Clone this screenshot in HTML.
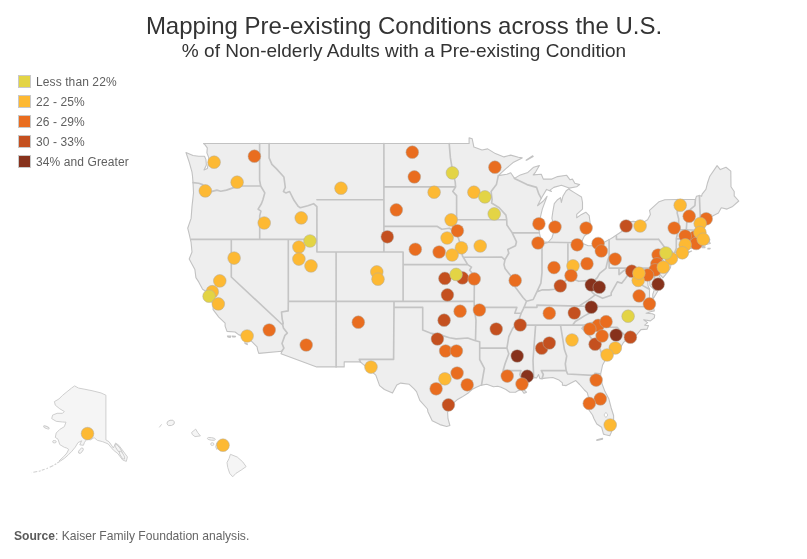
<!DOCTYPE html>
<html lang="en"><head><meta charset="utf-8"><title>Mapping Pre-existing Conditions across the U.S.</title>
<style>
html,body{margin:0;padding:0;background:#fff}
body{width:807px;height:559px;position:relative;overflow:hidden;font-family:"Liberation Sans",Arial,sans-serif}
.title{position:absolute;left:0.5px;top:12px;width:807px;text-align:center;font-size:24px;line-height:28px;color:#333}
.sub{position:absolute;left:0.5px;top:40px;width:807px;text-align:center;font-size:19.05px;line-height:22px;color:#333}
.li{position:absolute;left:18px;height:14px;white-space:nowrap}
.sw{position:absolute;left:0;top:0;width:11px;height:11px;border:1px solid #c9c9c9}
.lt{position:absolute;left:18px;top:0px;font-size:12px;line-height:14px;color:#606060;letter-spacing:0.1px}
.src{position:absolute;left:14px;top:528px;font-size:12.1px;line-height:16px;color:#666}
.src b{color:#5a5a5a}
svg{position:absolute;left:0;top:0}
</style></head><body>
<div class="title">Mapping Pre-existing Conditions across the U.S.</div>
<div class="sub">% of Non-elderly Adults with a Pre-existing Condition</div>
<div class="li" style="top:75px"><span class="sw" style="background:#e3d445"></span><span class="lt">Less than 22%</span></div><div class="li" style="top:95px"><span class="sw" style="background:#fdb933"></span><span class="lt">22 - 25%</span></div><div class="li" style="top:115px"><span class="sw" style="background:#e96d1f"></span><span class="lt">26 - 29%</span></div><div class="li" style="top:135px"><span class="sw" style="background:#c4501f"></span><span class="lt">30 - 33%</span></div><div class="li" style="top:155px"><span class="sw" style="background:#87321c"></span><span class="lt">34% and Greater</span></div>
<svg width="807" height="559" viewBox="0 0 807 559">
<g fill="#eeeeee" stroke="#c2c2c2" stroke-width="1.1" stroke-linejoin="round">
<path d="M186.0 152.5 L193.0 155.5 L198.7 156.2 L204.5 156.2 L205.9 159.4 L206.4 165.1 L204.0 170.0 L207.3 168.6 L208.3 163.6 L208.8 157.9 L206.9 152.9 L207.3 147.9 L204.5 144.2 L203.5 143.5 L469.1 143.5 L469.1 137.9 L472.2 138.8 L473.9 147.1 L482.0 150.0 L487.7 148.9 L495.4 153.6 L504.0 156.9 L510.7 155.1 L518.4 157.2 L522.2 157.9 L513.6 162.2 L505.9 168.6 L498.3 175.6 L506.9 174.2 L510.7 172.8 L514.5 178.4 L520.3 174.9 L527.9 172.4 L533.7 167.2 L539.4 165.5 L535.6 172.1 L533.2 174.9 L541.3 174.2 L543.3 179.1 L551.9 179.1 L557.6 176.6 L566.7 175.3 L570.1 179.8 L572.4 179.1 L574.8 183.3 L579.6 184.6 L576.7 186.7 L569.1 188.1 L561.4 185.3 L553.8 187.4 L550.0 190.1 L551.4 191.5 L546.6 189.4 L541.3 198.3 L537.5 205.7 L543.3 201.0 L547.1 196.3 L542.3 209.1 L540.4 217.1 L538.5 225.6 L539.4 232.8 L541.3 241.2 L543.3 244.0 L548.0 242.5 L551.9 238.0 L554.7 228.9 L551.9 218.4 L552.8 211.8 L554.3 203.7 L557.6 199.7 L560.5 197.6 L561.4 202.4 L562.9 196.3 L566.2 190.8 L568.6 189.0 L574.8 192.9 L581.5 197.0 L582.5 202.4 L582.5 209.1 L576.7 214.4 L576.7 217.7 L581.5 214.4 L585.8 212.2 L589.2 215.7 L590.6 226.3 L590.1 231.5 L584.4 236.0 L581.1 242.7 L588.2 245.7 L597.8 245.7 L609.3 239.6 L613.1 237.3 L623.6 230.2 L624.6 227.6 L623.2 223.0 L633.2 221.4 L642.8 222.6 L647.6 219.7 L650.4 214.4 L649.5 210.4 L659.1 201.7 L664.8 199.7 L677.7 199.5 L695.4 199.5 L696.4 196.3 L699.4 195.6 L701.6 196.3 L702.1 194.2 L705.9 189.4 L707.4 183.3 L709.8 176.3 L717.1 165.6 L720.3 169.6 L726.0 167.2 L730.8 171.1 L731.0 186.7 L734.2 191.5 L734.2 195.9 L738.8 201.0 L732.7 206.4 L727.0 209.1 L721.3 207.7 L718.4 213.1 L711.7 216.4 L707.9 218.4 L704.5 223.7 L702.6 226.3 L702.1 228.2 L704.0 230.8 L700.2 234.7 L703.6 239.3 L705.0 242.1 L709.3 242.1 L709.8 239.3 L707.9 238.4 L710.3 243.5 L703.6 245.0 L700.2 245.7 L696.4 246.3 L692.1 248.2 L682.0 248.9 L674.8 252.3 L679.1 253.1 L685.8 252.7 L691.6 251.1 L681.1 256.5 L671.5 257.3 L671.5 259.0 L670.5 267.7 L667.7 272.1 L662.9 277.9 L659.1 273.3 L656.7 269.6 L658.1 273.3 L661.0 279.5 L661.4 283.8 L661.0 285.6 L658.1 290.5 L652.8 299.5 L652.8 294.1 L654.3 289.9 L650.0 285.6 L649.5 278.3 L650.9 272.1 L651.9 270.2 L648.5 273.9 L647.6 278.3 L648.0 285.6 L649.5 289.3 L649.5 294.1 L649.5 301.3 L652.4 302.3 L653.3 306.7 L654.3 310.9 L651.4 311.4 L646.1 313.2 L652.4 313.8 L654.7 315.0 L654.3 317.9 L650.4 320.9 L643.7 319.7 L647.6 322.6 L644.7 325.2 L648.5 325.6 L647.1 329.1 L640.9 329.6 L634.2 337.7 L627.9 338.3 L623.6 342.3 L620.8 346.9 L615.0 351.5 L609.8 356.0 L605.9 358.9 L602.6 365.0 L600.7 373.8 L600.7 377.9 L602.1 384.0 L605.0 391.6 L608.8 398.7 L611.2 408.0 L613.6 415.5 L613.6 421.9 L612.6 427.8 L611.2 432.5 L609.8 435.7 L605.5 434.7 L603.5 434.1 L601.6 427.2 L596.8 424.0 L594.0 418.7 L592.5 415.0 L588.2 409.0 L587.3 404.7 L588.7 398.2 L587.3 392.7 L584.4 390.0 L579.6 384.5 L575.8 380.6 L572.4 382.3 L566.2 385.6 L562.4 385.1 L562.4 382.9 L559.0 380.1 L552.8 377.5 L545.2 378.1 L542.1 378.6 L539.9 378.6 L538.5 374.5 L536.6 377.9 L533.7 377.6 L528.9 377.3 L524.1 378.4 L522.2 379.8 L520.8 381.2 L524.1 382.3 L525.1 386.2 L523.6 389.5 L526.5 392.2 L524.1 393.3 L521.2 389.5 L517.4 391.1 L515.5 392.2 L509.8 392.2 L505.9 389.5 L501.1 387.3 L497.8 386.2 L493.5 386.7 L486.8 384.3 L481.5 385.1 L476.3 387.3 L472.9 388.9 L468.6 392.7 L461.9 397.1 L457.1 399.8 L451.4 404.7 L449.5 408.0 L447.6 412.3 L448.0 418.7 L449.9 425.5 L446.6 426.5 L439.9 424.6 L432.2 420.8 L427.9 411.7 L427.5 409.0 L419.8 400.4 L416.5 391.6 L414.1 388.9 L409.3 384.3 L400.7 383.1 L396.8 385.1 L392.5 393.1 L384.4 389.5 L379.6 385.6 L375.8 375.1 L365.3 366.2 L360.5 362.2 L360.2 361.9 L344.2 361.9 L344.2 366.9 L316.7 366.9 L281.0 353.8 L281.8 351.3 L258.8 353.4 L257.6 349.8 L257.1 346.9 L251.4 341.2 L246.6 339.5 L245.6 336.6 L238.9 334.9 L235.1 332.0 L227.0 331.4 L225.1 326.1 L225.1 323.2 L218.8 317.1 L213.1 309.7 L213.1 306.1 L214.0 303.1 L211.7 301.9 L208.3 298.9 L207.3 292.3 L202.6 289.3 L198.7 281.9 L195.9 277.6 L194.9 269.6 L189.2 259.0 L192.0 252.0 L191.1 242.5 L189.2 234.1 L187.7 228.2 L191.1 218.4 L192.0 206.4 L193.5 192.9 L193.0 182.6 L192.5 176.3 L192.0 172.1 L189.2 162.2 Z"/><path d="M596.8 440.5 L602.6 439.1 L602.6 438.4 L596.8 439.8 Z"/><path d="M526.0 160.1 L532.7 155.8 L533.2 156.5 L527.0 160.1 Z"/><path d="M227.4 336.0 L230.8 336.0 L230.3 337.4 L227.9 336.9 Z"/><path d="M232.2 336.0 L235.6 336.2 L235.1 336.9 L232.7 336.9 Z"/><path d="M244.7 342.7 L247.5 344.1 L247.1 344.6 L245.1 343.5 Z"/><path d="M702.1 246.3 L705.0 246.9 L705.0 247.6 L702.1 247.8 Z"/><path d="M707.9 248.2 L710.3 248.2 L709.8 248.9 L707.9 248.9 Z"/>
</g>
<g fill="none" stroke="#c4c4c4" stroke-width="1.65" stroke-linejoin="round" stroke-linecap="round">
<path d="M193.0 182.6 L198.7 183.3 L202.6 184.6 L204.5 190.8 L210.2 191.9 L216.9 190.1 L220.7 191.2 L226.5 190.1 L235.1 187.1 L240.8 186.0 L260.7 186.0 M259.6 143.5 L259.6 180.2 L260.7 186.0 M260.7 186.0 L264.8 192.9 L262.9 199.7 L261.4 203.7 L258.1 209.1 L260.9 211.1 L259.7 215.7 L259.7 239.3 M191.1 239.3 L316.9 239.3 M231.3 239.3 L231.3 277.0 L282.7 325.0 M282.7 325.0 L283.2 323.2 L282.2 319.1 L281.5 312.0 L288.2 310.9 L288.3 301.3 M288.3 301.3 L288.3 239.3 M282.7 325.0 L283.4 327.9 L287.3 333.1 L284.9 335.4 L282.0 343.5 L283.9 348.1 L281.8 351.3 M288.3 301.3 L474.2 301.3 M316.9 239.3 L316.9 252.0 L336.1 252.0 M336.1 252.0 L336.1 366.9 M316.9 239.3 L316.9 206.7 L313.6 203.7 L307.8 205.7 L300.2 207.7 L298.3 206.4 L294.0 200.3 L289.6 191.5 L285.8 192.9 L283.4 191.5 L285.3 187.4 L283.9 177.0 L276.3 168.6 L271.9 164.4 L269.1 157.9 L269.1 143.5 M316.9 199.7 L383.9 199.7 M383.9 143.5 L383.9 252.0 M336.1 252.0 L403.1 252.0 M403.1 252.0 L403.1 301.3 M403.1 264.6 L467.7 264.6 M383.9 186.8 L455.6 186.8 M383.9 226.3 L437.0 226.3 L441.8 229.3 L449.5 228.2 L454.3 231.5 L456.6 232.8 M449.2 143.5 L450.4 157.9 L452.8 172.1 L455.2 181.9 L455.6 186.8 L452.8 191.5 L456.6 195.6 L456.6 219.7 L455.2 225.0 L456.6 232.8 M456.6 219.7 L506.7 219.7 M456.6 232.8 L460.0 243.1 L461.9 249.5 L462.4 255.8 L467.7 264.6 L471.5 267.1 L469.6 270.2 L474.4 275.8 L474.2 301.3 L474.2 307.3 L476.0 320.3 L475.5 340.7 M463.2 257.3 L501.8 257.0 L504.8 259.9 M474.2 307.3 L516.9 307.3 L514.8 313.2 L521.2 313.2 M498.3 175.6 L496.4 184.6 L491.1 191.5 L492.1 199.7 L491.6 203.0 L499.2 207.7 L505.9 215.1 L506.7 219.7 L506.9 225.0 L512.2 232.8 L516.5 241.8 L515.5 245.7 L507.8 249.5 L508.8 253.3 L505.0 259.6 L504.0 264.6 L505.0 268.4 L511.7 277.0 L516.9 279.5 L516.5 281.9 L515.0 286.8 L523.2 297.7 L526.5 301.3 L524.1 307.3 L521.2 313.2 L517.4 323.8 L515.5 325.0 L512.6 328.5 L508.8 336.6 L506.9 348.1 L508.8 353.8 L505.0 363.9 L503.1 370.6 L521.0 370.6 L519.8 374.5 L522.2 379.8 M479.7 348.1 L506.9 348.1 M475.5 340.7 L479.7 341.8 L479.7 359.5 L484.4 368.4 L483.0 376.2 L481.5 385.1 M475.5 340.7 L467.7 338.0 L456.2 338.9 L449.5 337.7 L441.8 335.4 L430.3 333.1 L422.7 330.1 L422.7 307.3 L394.0 307.3 M394.0 301.3 L394.0 307.3 L393.6 359.4 L359.3 359.4 L360.5 362.2 M514.5 178.4 L527.0 184.6 L536.6 187.4 L538.9 194.2 L541.3 198.3 M512.2 232.8 L539.4 232.8 M542.0 243.1 L542.0 272.7 L540.9 283.2 L537.0 291.7 M567.9 243.1 L567.9 275.8 M545.2 242.3 L581.1 242.7 M609.1 256.6 L607.9 259.6 L605.9 268.4 L599.7 273.3 L597.3 277.6 L593.0 281.9 L589.2 284.1 L585.4 280.7 L578.7 281.3 L572.9 278.9 L571.0 275.8 L567.9 275.8 L566.2 280.1 L559.5 285.6 L554.7 289.3 L549.0 289.9 L541.8 289.9 L537.0 291.7 L533.2 299.5 L526.5 301.3 M523.6 307.3 L537.0 307.3 L537.0 305.1 L578.9 306.1 L598.0 306.2 L653.3 306.7 M578.9 306.1 L588.2 300.1 L595.2 294.8 L592.1 292.3 L589.2 284.1 M595.2 294.8 L602.6 298.3 L611.2 295.3 L611.2 292.9 L617.4 281.9 L621.7 283.2 L625.1 278.9 L629.9 272.1 L634.8 275.4 L635.9 273.1 M619.0 268.1 L619.0 274.6 L623.2 271.1 L626.0 269.6 L631.3 268.6 L635.9 273.1 L638.0 275.8 L642.3 278.9 L639.9 284.4 L642.8 285.6 L649.5 289.3 M609.1 268.1 L654.4 268.1 M609.1 268.1 L609.1 239.5 M616.4 235.8 L616.4 239.3 L658.6 239.3 M658.6 239.3 L664.8 247.5 L660.7 252.4 L660.0 257.1 L664.3 262.1 L661.0 265.9 L657.6 267.1 M657.6 267.1 L654.4 268.1 L654.4 283.8 L661.4 283.8 M655.7 289.9 L659.5 288.9 M664.8 247.5 L672.4 252.0 M674.8 252.3 L676.3 248.2 L676.3 238.6 L678.5 229.5 L678.7 219.0 L677.2 213.1 L677.7 199.5 M676.3 238.6 L692.5 239.0 L696.6 239.0 L698.3 243.8 L699.1 245.7 M692.5 239.0 L692.5 248.2 M678.5 229.5 L697.3 230.2 L702.1 227.8 M686.3 229.8 L686.8 222.3 L689.7 214.4 L690.6 209.1 L694.9 205.7 L695.4 199.5 M702.6 225.6 L700.4 221.0 L699.4 195.6 M542.1 378.6 L543.3 374.5 L541.3 370.6 L566.2 370.6 L567.6 374.0 L593.0 375.4 L594.5 377.6 L594.9 373.4 L600.2 373.8 M560.5 325.2 L564.5 349.8 L566.7 356.0 L565.3 363.9 L566.2 370.6 M535.6 325.1 L533.0 360.5 L533.7 377.6 M515.5 325.0 L572.7 325.1 L584.4 325.0 M572.7 325.1 L575.3 321.5 L580.6 318.3 L584.4 315.9 L589.2 313.2 L594.5 312.0 L598.0 306.2 M584.4 325.0 L582.0 328.5 L587.8 333.7 L593.0 340.6 L595.9 342.9 L599.7 348.1 L603.1 357.2 L605.9 358.9 M584.4 325.0 L592.1 322.6 L604.0 323.2 L604.0 324.4 L605.2 323.8 L606.6 327.1 L617.1 327.3 L627.9 338.3"/>
</g>
<path d="M605.9 412.3 L607.9 415.0 L605.9 417.6 L604.0 415.0 Z" fill="#fff" stroke="#c6c6c6" stroke-width="0.8"/>
<g fill="#f5f5f5" stroke="#c9c9c9" stroke-width="0.9" stroke-linejoin="round"><path d="M74.6 385.9 L78.6 388.1 L83.0 388.9 L92.0 390.7 L100.9 392.9 L105.9 395.2 L105.9 439.9 L109.0 441.7 L113.4 448.0 L115.6 443.0 L118.8 445.3 L122.4 450.1 L127.4 456.9 L126.3 461.4 L122.7 460.0 L117.9 453.7 L113.4 450.1 L108.1 443.9 L102.7 441.7 L97.3 440.3 L94.1 437.6 L90.5 439.9 L87.0 439.0 L84.5 442.3 L83.4 445.3 L79.8 444.8 L81.6 440.8 L78.0 442.6 L75.3 447.1 L71.9 451.2 L68.4 454.8 L64.8 458.0 L60.7 460.9 L59.1 460.9 L63.7 456.6 L66.9 453.0 L68.7 449.4 L66.6 448.0 L64.3 447.3 L59.8 444.6 L58.0 439.2 L55.3 437.4 L56.2 433.0 L59.8 429.4 L64.3 426.7 L66.0 422.2 L62.5 422.0 L56.2 421.3 L51.7 418.6 L52.6 415.1 L57.1 413.3 L62.5 413.3 L64.3 411.5 L59.8 408.8 L55.3 405.2 L54.4 401.6 L58.9 399.0 L62.5 395.4 L66.9 391.8 L71.4 388.2 Z"/><ellipse cx="46.4" cy="427.4" rx="3.0" ry="1.0" transform="rotate(25 46.4 427.4)"/><ellipse cx="54.4" cy="441.7" rx="1.8" ry="1.2" transform="rotate(0 54.4 441.7)"/><ellipse cx="80.9" cy="450.7" rx="3.2" ry="1.6" transform="rotate(-50 80.9 450.7)"/><ellipse cx="118.5" cy="448.9" rx="5.5" ry="1.6" transform="rotate(55 118.5 448.9)"/><ellipse cx="122.0" cy="455.1" rx="4.5" ry="1.5" transform="rotate(60 122.0 455.1)"/><path d="M59.8 461.4 L53.5 465.5 L46.4 468.7 L39.2 471.2 L31.2 472.7" fill="none" stroke="#d0d0d0" stroke-width="1.1" stroke-dasharray="3 1.2 2 1.5 4 2 1.5 2"/><path d="M159.3 427.4 L161.6 424.3" fill="none"/><ellipse cx="170.7" cy="422.9" rx="3.8" ry="2.7" transform="rotate(-15 170.7 422.9)"/><path d="M191.6 432.5 L195.7 429.1 L197.7 432.5 L200.4 435.9 L195.0 436.6 L192.3 434.5 Z"/><ellipse cx="211.3" cy="438.9" rx="4.1" ry="1.3" transform="rotate(8 211.3 438.9)"/><ellipse cx="212.3" cy="444.1" rx="1.6" ry="1.4" transform="rotate(0 212.3 444.1)"/><path d="M216.8 442.7 L219.5 440.7 L223.6 441.6 L227.7 444.1 L226.3 447.5 L222.2 448.8 L218.8 447.5 L216.8 449.5 L215.7 446.8 Z"/><path d="M230.4 454.3 L237.2 457.0 L242.7 461.8 L246.1 466.6 L241.3 470.0 L235.9 473.4 L232.7 476.8 L229.7 473.4 L227.7 467.3 L227.0 462.5 L229.1 458.4 Z"/></g>
<g stroke="#b0aca4" stroke-opacity="0.85" stroke-width="0.6">
<circle cx="214.1" cy="162.2" r="6.35" fill="#fdb933"/>
<circle cx="254.4" cy="156.2" r="6.35" fill="#e96d1f"/>
<circle cx="237.1" cy="182.2" r="6.35" fill="#fdb933"/>
<circle cx="205.3" cy="190.9" r="6.35" fill="#fdb933"/>
<circle cx="341.0" cy="188.2" r="6.35" fill="#fdb933"/>
<circle cx="264.2" cy="223.0" r="6.35" fill="#fdb933"/>
<circle cx="301.2" cy="217.9" r="6.35" fill="#fdb933"/>
<circle cx="298.9" cy="247.0" r="6.35" fill="#fdb933"/>
<circle cx="310.0" cy="241.0" r="6.35" fill="#e3d445"/>
<circle cx="298.9" cy="259.1" r="6.35" fill="#fdb933"/>
<circle cx="311.0" cy="265.9" r="6.35" fill="#fdb933"/>
<circle cx="234.1" cy="258.1" r="6.35" fill="#fdb933"/>
<circle cx="376.8" cy="271.9" r="6.35" fill="#fdb933"/>
<circle cx="412.3" cy="152.2" r="6.35" fill="#e96d1f"/>
<circle cx="414.3" cy="176.9" r="6.35" fill="#e96d1f"/>
<circle cx="452.4" cy="172.9" r="6.35" fill="#e3d445"/>
<circle cx="434.1" cy="192.2" r="6.35" fill="#fdb933"/>
<circle cx="396.3" cy="209.9" r="6.35" fill="#e96d1f"/>
<circle cx="494.9" cy="167.2" r="6.35" fill="#e96d1f"/>
<circle cx="473.9" cy="192.2" r="6.35" fill="#fdb933"/>
<circle cx="484.9" cy="196.9" r="6.35" fill="#e3d445"/>
<circle cx="494.2" cy="213.9" r="6.35" fill="#e3d445"/>
<circle cx="451.1" cy="219.9" r="6.35" fill="#fdb933"/>
<circle cx="457.4" cy="230.8" r="6.35" fill="#e96d1f"/>
<circle cx="447.1" cy="238.0" r="6.35" fill="#fdb933"/>
<circle cx="387.3" cy="236.8" r="6.35" fill="#c4501f"/>
<circle cx="415.3" cy="249.3" r="6.35" fill="#e96d1f"/>
<circle cx="439.1" cy="252.0" r="6.35" fill="#e96d1f"/>
<circle cx="461.4" cy="247.8" r="6.35" fill="#fdb933"/>
<circle cx="452.1" cy="255.0" r="6.35" fill="#fdb933"/>
<circle cx="480.2" cy="246.0" r="6.35" fill="#fdb933"/>
<circle cx="538.9" cy="223.8" r="6.35" fill="#e96d1f"/>
<circle cx="555.0" cy="227.0" r="6.35" fill="#e96d1f"/>
<circle cx="538.0" cy="243.0" r="6.35" fill="#e96d1f"/>
<circle cx="554.0" cy="267.6" r="6.35" fill="#e96d1f"/>
<circle cx="573.0" cy="265.9" r="6.35" fill="#fdb933"/>
<circle cx="577.1" cy="244.8" r="6.35" fill="#e96d1f"/>
<circle cx="706.2" cy="218.8" r="6.35" fill="#e96d1f"/>
<circle cx="694.7" cy="237.2" r="6.35" fill="#e96d1f"/>
<circle cx="680.2" cy="205.2" r="6.35" fill="#fdb933"/>
<circle cx="689.2" cy="216.2" r="6.35" fill="#e96d1f"/>
<circle cx="700.2" cy="223.5" r="6.35" fill="#fdb933"/>
<circle cx="626.1" cy="226.0" r="6.35" fill="#c4501f"/>
<circle cx="640.1" cy="226.0" r="6.35" fill="#fdb933"/>
<circle cx="674.2" cy="228.0" r="6.35" fill="#e96d1f"/>
<circle cx="586.1" cy="228.0" r="6.35" fill="#e96d1f"/>
<circle cx="685.2" cy="236.0" r="6.35" fill="#e96d1f"/>
<circle cx="696.2" cy="243.5" r="6.35" fill="#e96d1f"/>
<circle cx="699.9" cy="232.5" r="6.35" fill="#fdb933"/>
<circle cx="703.2" cy="239.2" r="6.35" fill="#fdb933"/>
<circle cx="685.2" cy="244.8" r="6.35" fill="#fdb933"/>
<circle cx="682.3" cy="252.8" r="6.35" fill="#fdb933"/>
<circle cx="658.1" cy="255.0" r="6.35" fill="#e96d1f"/>
<circle cx="671.4" cy="258.6" r="6.35" fill="#fdb933"/>
<circle cx="665.9" cy="253.0" r="6.35" fill="#e3d445"/>
<circle cx="656.9" cy="263.9" r="6.35" fill="#e96d1f"/>
<circle cx="655.1" cy="269.9" r="6.35" fill="#e96d1f"/>
<circle cx="663.3" cy="267.2" r="6.35" fill="#fdb933"/>
<circle cx="598.1" cy="243.5" r="6.35" fill="#e96d1f"/>
<circle cx="601.3" cy="251.0" r="6.35" fill="#e96d1f"/>
<circle cx="615.1" cy="259.1" r="6.35" fill="#e96d1f"/>
<circle cx="587.0" cy="263.7" r="6.35" fill="#e96d1f"/>
<circle cx="631.8" cy="271.2" r="6.35" fill="#c4501f"/>
<circle cx="647.5" cy="275.0" r="6.35" fill="#e96d1f"/>
<circle cx="219.8" cy="280.9" r="6.35" fill="#fdb933"/>
<circle cx="212.3" cy="291.7" r="6.35" fill="#fdb933"/>
<circle cx="209.1" cy="296.2" r="6.35" fill="#e3d445"/>
<circle cx="218.3" cy="303.9" r="6.35" fill="#fdb933"/>
<circle cx="247.1" cy="336.0" r="6.35" fill="#fdb933"/>
<circle cx="269.2" cy="330.0" r="6.35" fill="#e96d1f"/>
<circle cx="306.2" cy="345.0" r="6.35" fill="#e96d1f"/>
<circle cx="358.3" cy="322.2" r="6.35" fill="#e96d1f"/>
<circle cx="371.0" cy="367.1" r="6.35" fill="#fdb933"/>
<circle cx="378.0" cy="279.2" r="6.35" fill="#fdb933"/>
<circle cx="444.9" cy="278.4" r="6.35" fill="#c4501f"/>
<circle cx="462.4" cy="277.9" r="6.35" fill="#c4501f"/>
<circle cx="456.1" cy="274.4" r="6.35" fill="#e3d445"/>
<circle cx="474.2" cy="278.9" r="6.35" fill="#e96d1f"/>
<circle cx="515.2" cy="280.4" r="6.35" fill="#e96d1f"/>
<circle cx="447.4" cy="294.9" r="6.35" fill="#c4501f"/>
<circle cx="460.1" cy="311.2" r="6.35" fill="#e96d1f"/>
<circle cx="479.4" cy="310.0" r="6.35" fill="#e96d1f"/>
<circle cx="444.1" cy="320.2" r="6.35" fill="#c4501f"/>
<circle cx="496.2" cy="329.0" r="6.35" fill="#c4501f"/>
<circle cx="520.2" cy="325.0" r="6.35" fill="#c4501f"/>
<circle cx="549.3" cy="313.2" r="6.35" fill="#e96d1f"/>
<circle cx="574.3" cy="313.0" r="6.35" fill="#c4501f"/>
<circle cx="560.3" cy="285.9" r="6.35" fill="#c4501f"/>
<circle cx="571.0" cy="275.6" r="6.35" fill="#e96d1f"/>
<circle cx="437.4" cy="339.0" r="6.35" fill="#c4501f"/>
<circle cx="445.6" cy="351.0" r="6.35" fill="#e96d1f"/>
<circle cx="456.4" cy="351.0" r="6.35" fill="#e96d1f"/>
<circle cx="517.2" cy="356.0" r="6.35" fill="#87321c"/>
<circle cx="541.7" cy="348.2" r="6.35" fill="#c4501f"/>
<circle cx="549.3" cy="343.0" r="6.35" fill="#c4501f"/>
<circle cx="572.0" cy="340.0" r="6.35" fill="#fdb933"/>
<circle cx="457.1" cy="373.1" r="6.35" fill="#e96d1f"/>
<circle cx="444.9" cy="378.8" r="6.35" fill="#fdb933"/>
<circle cx="436.1" cy="388.8" r="6.35" fill="#e96d1f"/>
<circle cx="467.2" cy="384.8" r="6.35" fill="#e96d1f"/>
<circle cx="448.4" cy="404.9" r="6.35" fill="#c4501f"/>
<circle cx="507.2" cy="376.1" r="6.35" fill="#e96d1f"/>
<circle cx="527.2" cy="376.2" r="6.35" fill="#87321c"/>
<circle cx="522.0" cy="384.1" r="6.35" fill="#e96d1f"/>
<circle cx="591.3" cy="284.9" r="6.35" fill="#87321c"/>
<circle cx="599.3" cy="287.2" r="6.35" fill="#87321c"/>
<circle cx="591.3" cy="307.2" r="6.35" fill="#87321c"/>
<circle cx="658.1" cy="284.2" r="6.35" fill="#87321c"/>
<circle cx="638.2" cy="280.4" r="6.35" fill="#fdb933"/>
<circle cx="638.9" cy="273.2" r="6.35" fill="#fdb933"/>
<circle cx="639.1" cy="295.9" r="6.35" fill="#e96d1f"/>
<circle cx="649.4" cy="303.9" r="6.35" fill="#e96d1f"/>
<circle cx="628.1" cy="316.2" r="6.35" fill="#e3d445"/>
<circle cx="598.1" cy="325.4" r="6.35" fill="#e96d1f"/>
<circle cx="606.1" cy="321.7" r="6.35" fill="#e96d1f"/>
<circle cx="589.8" cy="329.0" r="6.35" fill="#e96d1f"/>
<circle cx="595.1" cy="344.2" r="6.35" fill="#c4501f"/>
<circle cx="602.1" cy="336.0" r="6.35" fill="#e96d1f"/>
<circle cx="616.1" cy="335.0" r="6.35" fill="#87321c"/>
<circle cx="630.4" cy="337.2" r="6.35" fill="#c4501f"/>
<circle cx="615.3" cy="348.0" r="6.35" fill="#fdb933"/>
<circle cx="607.1" cy="355.0" r="6.35" fill="#fdb933"/>
<circle cx="596.1" cy="380.1" r="6.35" fill="#e96d1f"/>
<circle cx="600.3" cy="398.9" r="6.35" fill="#e96d1f"/>
<circle cx="589.3" cy="403.4" r="6.35" fill="#e96d1f"/>
<circle cx="610.2" cy="425.0" r="6.35" fill="#fdb933"/>
<circle cx="87.5" cy="433.6" r="6.35" fill="#fdb933"/>
<circle cx="223.0" cy="445.2" r="6.35" fill="#fdb933"/>
</g>
</svg>
<div class="src"><b>Source</b>: Kaiser Family Foundation analysis.</div>
</body></html>
